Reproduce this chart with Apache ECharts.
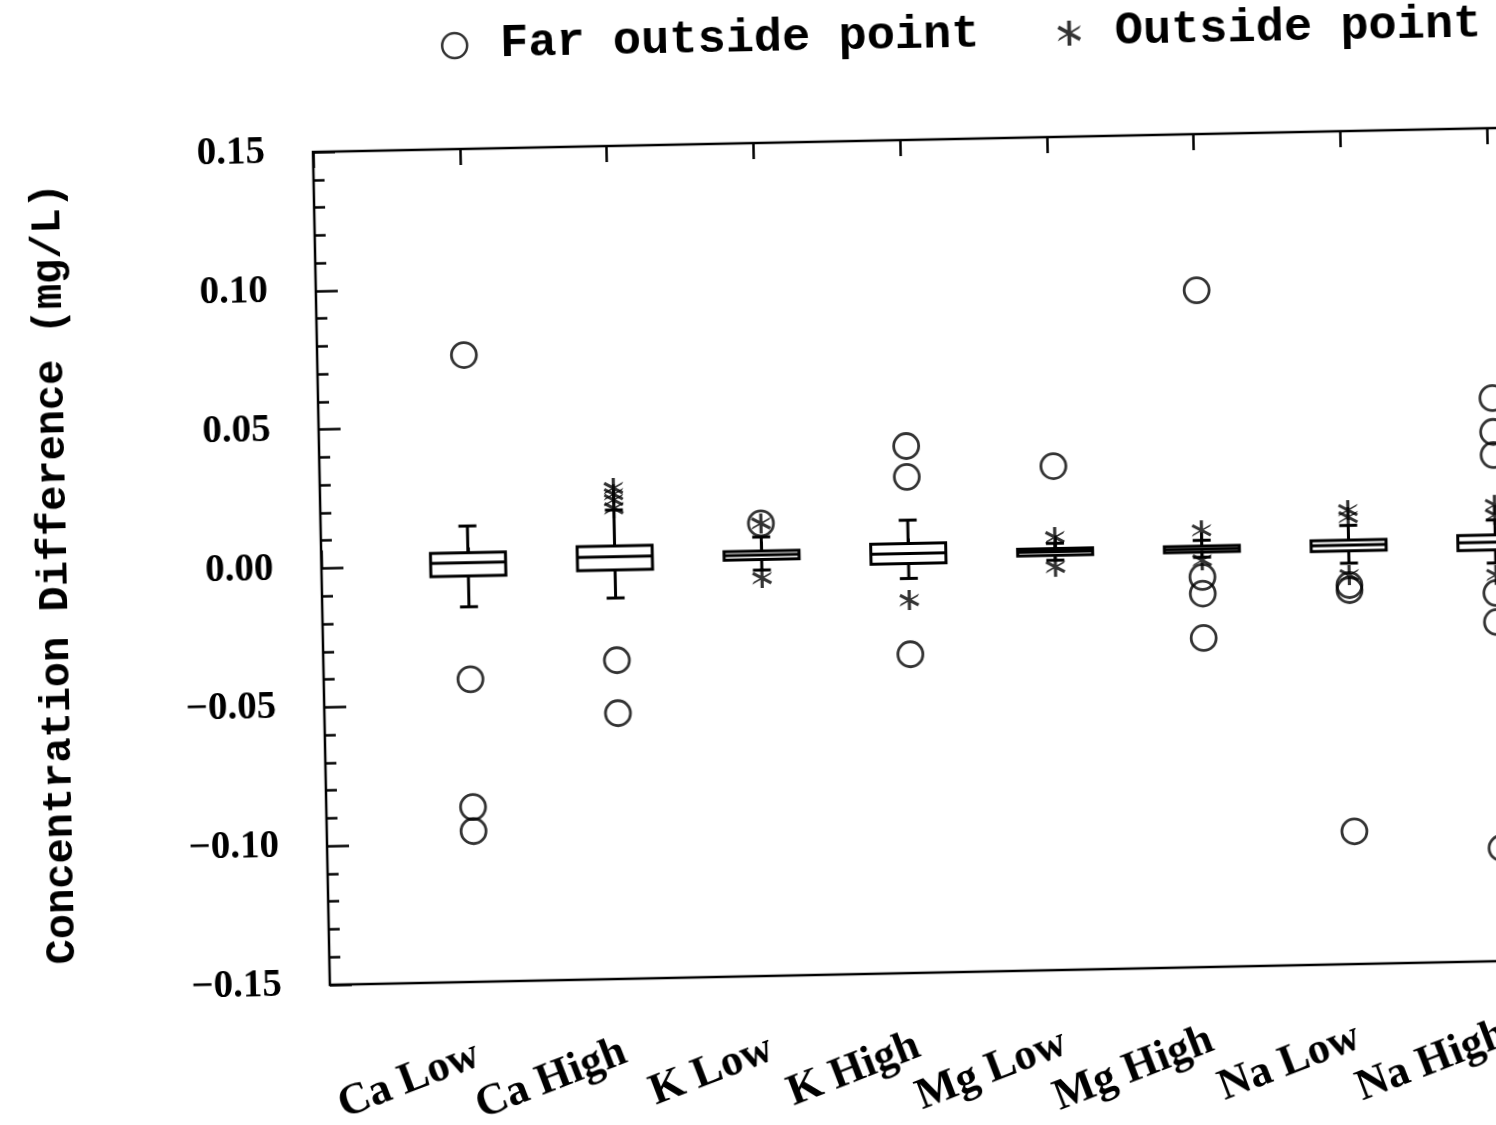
<!DOCTYPE html>
<html>
<head>
<meta charset="utf-8">
<script src="https://cdn.jsdelivr.net/npm/echarts@6/dist/echarts.min.js"></script>
<style>
html,body{margin:0;padding:0;background:#fff;overflow:hidden;width:1496px;height:1125px;}
#chart{position:absolute;left:0;top:0;width:1720px;height:1200px;transform:rotate(-1.16deg);transform-origin:313px 152px;background:#fff;}
</style>
</head>
<body>
<div id="chart"></div>
<script>
// ---- data ----
const categories = ['', 'Ca Low', 'Ca High', 'K Low', 'K High', 'Mg Low', 'Mg High', 'Na Low', 'Na High', ''];
const yTicks = [-0.15, -0.10, -0.05, 0.00, 0.05, 0.10, 0.15];
// box statistics per category (index 1..8)
const boxCategoryIndex = [1, 2, 3, 4, 5, 6, 7, 8];
const lowerWhisker = [-0.0149, -0.0128, -0.0038, -0.0079, -0.0024, -0.0024, -0.0056, -0.0066];
const lowerQuartile = [-0.0038, -0.0027, 0.0000, -0.0025, -0.0006, -0.0005, -0.0012, -0.0019];
const medianValue = [0.0010, 0.0021, 0.0016, 0.0011, 0.0007, 0.0005, 0.0009, 0.0009];
const upperQuartile = [0.0046, 0.0059, 0.0031, 0.0047, 0.0018, 0.0016, 0.0027, 0.0035];
const upperWhisker = [0.0142, 0.0189, 0.0081, 0.0131, 0.0037, 0.0037, 0.0080, 0.0089];
// outliers: [category index, value]
const farOutsidePoints = [
  [1, 0.0758], [1, -0.0410], [1, -0.0870], [1, -0.0957],
  [2, -0.0352], [2, -0.0543],
  [3, 0.0130],
  [4, 0.0398], [4, 0.0287], [4, -0.0352],
  [5, 0.0315],
  [6, 0.0938], [6, -0.0095], [6, -0.0155], [6, -0.0315],
  [7, -0.0135], [7, -0.0153], [7, -0.1022],
  [8, 0.0528], [8, 0.0406], [8, 0.0323], [8, -0.0174], [8, -0.0279], [8, -0.1093]
];
const outsidePoints = [
  [2, 0.0268], [2, 0.0246], [2, 0.0225], [2, 0.0195],
  [3, 0.0130], [3, -0.0067],
  [4, -0.0157],
  [5, 0.0059], [5, -0.0048],
  [6, 0.0073], [6, -0.0035],
  [7, 0.0135], [7, 0.0110], [7, -0.0099],
  [8, 0.0143], [8, 0.0107], [8, -0.0109]
];

const asteriskPath = 'path://M8.5,0L11.5,0L11.5,20L8.5,20Z' +
  'M17.91,6.3L0.59,16.3L2.09,13.7L19.41,3.7Z' +
  'M2.09,3.7L19.41,13.7L17.91,16.3L0.59,6.3Z';

const boxData = boxCategoryIndex.map((c, i) => [c, lowerWhisker[i], lowerQuartile[i], medianValue[i], upperQuartile[i], upperWhisker[i]]);

const chart = echarts.init(document.getElementById('chart'), null, {renderer: 'canvas'});

function fmt(v) {
  const s = Math.abs(v).toFixed(2);
  return v < -1e-9 ? '\u2212' + s : s;
}

const option = {
  backgroundColor: '#fff',
  animation: false,
  legend: {
    left: 438,
    top: 20,
    itemGap: 78,
    itemWidth: 25,
    itemHeight: 25,
    selectedMode: false,
    textStyle: {fontFamily: 'Liberation Mono', fontWeight: 'bold', fontSize: 47, color: '#000', padding: [0, 0, 0, 28]},
    data: [
      {name: 'Far outside point', icon: 'circle', itemStyle: {color: '#fff', borderColor: '#000', borderWidth: 2.5}},
      {name: 'Outside point', icon: asteriskPath, itemStyle: {color: '#000', borderWidth: 0}}
    ]
  },
  grid: {left: 313, top: 152, width: 1321, height: 833, show: true, borderColor: '#000', borderWidth: 2.5, backgroundColor: 'transparent'},
  xAxis: [{
    type: 'category',
    data: categories,
    boundaryGap: false,
    position: 'bottom',
    axisLine: {show: false},
    axisTick: {show: true, inside: true, length: 18, interval: 0, lineStyle: {color: '#000', width: 2.5}},
    axisLabel: {interval: 0, rotate: 20, margin: 72, fontFamily: 'Liberation Serif', fontWeight: 'bold', fontSize: 44, color: '#000'},
    splitLine: {show: false}
  }, {
    type: 'category',
    data: categories,
    boundaryGap: false,
    position: 'top',
    axisLine: {show: false},
    axisTick: {show: true, inside: true, length: 16, interval: 0, lineStyle: {color: '#000', width: 2.5}},
    axisLabel: {show: false},
    splitLine: {show: false}
  }],
  yAxis: {
    type: 'value',
    min: -0.15,
    max: 0.15,
    interval: 0.05,
    axisLine: {show: false},
    axisTick: {show: true, inside: true, length: 22, lineStyle: {color: '#000', width: 2.5}},
    minorTick: {show: true, splitNumber: 5, length: 11, lineStyle: {color: '#000', width: 2.5}},
    splitLine: {show: false},
    axisLabel: {margin: 48, formatter: fmt, fontFamily: 'Liberation Serif', fontWeight: 'bold', fontSize: 39, color: '#000'},
    name: 'Concentration Difference (mg/L)',
    nameLocation: 'middle',
    nameRotate: 90,
    nameGap: 245,
    nameTextStyle: {fontFamily: 'Liberation Mono', fontWeight: 'bold', fontSize: 42, color: '#000'}
  },
  series: [{
    type: 'custom',
    name: 'box',
    xAxisIndex: 0,
    data: boxData,
    encode: {x: 0, y: [1, 2, 3, 4, 5]},
    z: 2,
    renderItem: function (params, api) {
      const c = api.value(0);
      const lo = api.coord([c, api.value(1)]);
      const q1 = api.coord([c, api.value(2)]);
      const md = api.coord([c, api.value(3)]);
      const q3 = api.coord([c, api.value(4)]);
      const hi = api.coord([c, api.value(5)]);
      const cx = lo[0];
      const bw = 75, cw = 18;
      const st = {stroke: '#000', lineWidth: 3, fill: null};
      return {
        type: 'group',
        children: [
          {type: 'line', shape: {x1: cx, y1: hi[1], x2: cx, y2: q3[1]}, style: st},
          {type: 'line', shape: {x1: cx, y1: q1[1], x2: cx, y2: lo[1]}, style: st},
          {type: 'line', shape: {x1: cx - cw / 2, y1: hi[1], x2: cx + cw / 2, y2: hi[1]}, style: st},
          {type: 'line', shape: {x1: cx - cw / 2, y1: lo[1], x2: cx + cw / 2, y2: lo[1]}, style: st},
          {type: 'rect', shape: {x: cx - bw / 2, y: q3[1], width: bw, height: q1[1] - q3[1]}, style: {fill: '#fff', stroke: '#000', lineWidth: 3}},
          {type: 'line', shape: {x1: cx - bw / 2, y1: md[1], x2: cx + bw / 2, y2: md[1]}, style: st}
        ]
      };
    }
  }, {
    type: 'scatter',
    name: 'Far outside point',
    xAxisIndex: 0,
    data: farOutsidePoints,
    symbol: 'circle',
    symbolSize: 25,
    z: 3,
    itemStyle: {color: 'rgba(255,255,255,0)', borderColor: '#000', borderWidth: 2.8}
  }, {
    type: 'scatter',
    name: 'Outside point',
    xAxisIndex: 0,
    data: outsidePoints,
    symbol: asteriskPath,
    symbolSize: 20,
    z: 4,
    itemStyle: {color: '#000'}
  }]
};
chart.setOption(option);
</script>
</body>
</html>
